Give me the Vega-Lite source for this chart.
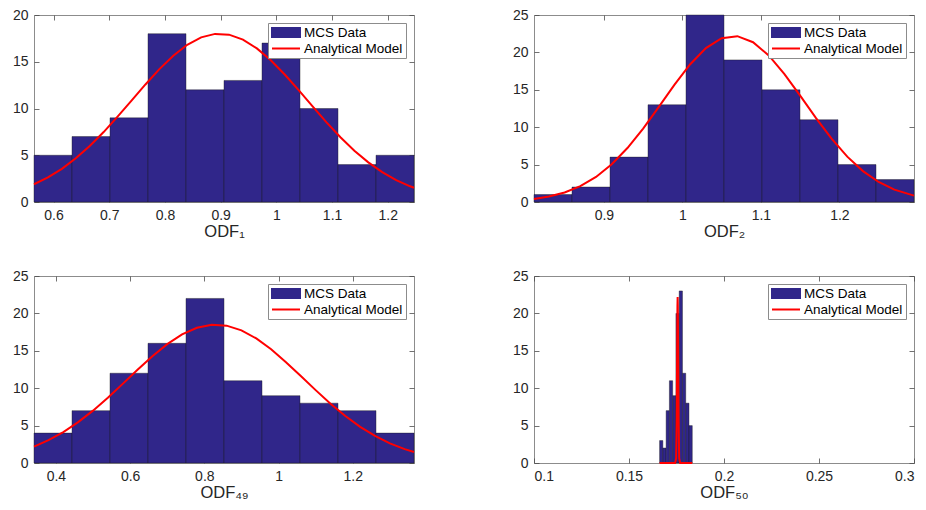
{
  "$schema": "https://vega.github.io/schema/vega-lite/v6.json",
  "background": "white",
  "padding": {"left": 11, "top": 7, "right": 5, "bottom": 5},
  "bounds": "flush",
  "columns": 2,
  "spacing": {"row": 74, "column": 120},
  "resolve": {
    "scale": {"x": "independent", "y": "independent", "color": "independent"},
    "legend": {"color": "independent"}
  },
  "datasets": {
    "bars1": [
      {"x0": 0.565, "x1": 0.6332, "count": 5},
      {"x0": 0.6332, "x1": 0.7014, "count": 7},
      {"x0": 0.7014, "x1": 0.7696, "count": 9},
      {"x0": 0.7696, "x1": 0.8378, "count": 18},
      {"x0": 0.8378, "x1": 0.906, "count": 12},
      {"x0": 0.906, "x1": 0.9742, "count": 13},
      {"x0": 0.9742, "x1": 1.0424, "count": 17},
      {"x0": 1.0424, "x1": 1.1106, "count": 10},
      {"x0": 1.1106, "x1": 1.1788, "count": 4},
      {"x0": 1.1788, "x1": 1.247, "count": 5}
    ],
    "curve1": [
      {"x": 0.565, "y": 1.90}, {"x": 0.59, "y": 2.63}, {"x": 0.615, "y": 3.55}, {"x": 0.64, "y": 4.67},
      {"x": 0.665, "y": 5.99}, {"x": 0.69, "y": 7.48}, {"x": 0.715, "y": 9.13}, {"x": 0.74, "y": 10.85},
      {"x": 0.765, "y": 12.57}, {"x": 0.79, "y": 14.21}, {"x": 0.815, "y": 15.65}, {"x": 0.84, "y": 16.81},
      {"x": 0.865, "y": 17.61}, {"x": 0.89, "y": 17.98}, {"x": 0.915, "y": 17.90}, {"x": 0.94, "y": 17.37},
      {"x": 0.965, "y": 16.43}, {"x": 0.99, "y": 15.16}, {"x": 1.015, "y": 13.64}, {"x": 1.04, "y": 11.96},
      {"x": 1.065, "y": 10.22}, {"x": 1.09, "y": 8.52}, {"x": 1.115, "y": 6.92}, {"x": 1.14, "y": 5.49},
      {"x": 1.165, "y": 4.24}, {"x": 1.19, "y": 3.19}, {"x": 1.215, "y": 2.34}, {"x": 1.24, "y": 1.68},
      {"x": 1.247, "y": 1.52}
    ],
    "bars2": [
      {"x0": 0.811, "x1": 0.8594, "count": 1},
      {"x0": 0.8594, "x1": 0.9078, "count": 2},
      {"x0": 0.9078, "x1": 0.9562, "count": 6},
      {"x0": 0.9562, "x1": 1.0046, "count": 13},
      {"x0": 1.0046, "x1": 1.053, "count": 25},
      {"x0": 1.053, "x1": 1.1014, "count": 19},
      {"x0": 1.1014, "x1": 1.1498, "count": 15},
      {"x0": 1.1498, "x1": 1.1982, "count": 11},
      {"x0": 1.1982, "x1": 1.2466, "count": 5},
      {"x0": 1.2466, "x1": 1.295, "count": 3}
    ],
    "curve2": [
      {"x": 0.811, "y": 0.41}, {"x": 0.83, "y": 0.73}, {"x": 0.85, "y": 1.28}, {"x": 0.87, "y": 2.12},
      {"x": 0.89, "y": 3.35}, {"x": 0.91, "y": 5.04}, {"x": 0.93, "y": 7.21}, {"x": 0.95, "y": 9.81},
      {"x": 0.97, "y": 12.72}, {"x": 0.99, "y": 15.69}, {"x": 1.01, "y": 18.42}, {"x": 1.03, "y": 20.58},
      {"x": 1.05, "y": 21.89}, {"x": 1.07, "y": 22.17}, {"x": 1.09, "y": 21.36}, {"x": 1.11, "y": 19.59},
      {"x": 1.13, "y": 17.10}, {"x": 1.15, "y": 14.21}, {"x": 1.17, "y": 11.24}, {"x": 1.19, "y": 8.46},
      {"x": 1.21, "y": 6.06}, {"x": 1.23, "y": 4.13}, {"x": 1.25, "y": 2.68}, {"x": 1.27, "y": 1.66},
      {"x": 1.295, "y": 0.85}
    ],
    "bars3": [
      {"x0": 0.341, "x1": 0.4434, "count": 4},
      {"x0": 0.4434, "x1": 0.5458, "count": 7},
      {"x0": 0.5458, "x1": 0.6482, "count": 12},
      {"x0": 0.6482, "x1": 0.7506, "count": 16},
      {"x0": 0.7506, "x1": 0.853, "count": 22},
      {"x0": 0.853, "x1": 0.9554, "count": 11},
      {"x0": 0.9554, "x1": 1.0578, "count": 9},
      {"x0": 1.0578, "x1": 1.1602, "count": 8},
      {"x0": 1.1602, "x1": 1.2626, "count": 7},
      {"x0": 1.2626, "x1": 1.365, "count": 4}
    ],
    "curve3": [
      {"x": 0.341, "y": 2.20}, {"x": 0.38, "y": 3.05}, {"x": 0.42, "y": 4.14}, {"x": 0.46, "y": 5.46},
      {"x": 0.5, "y": 7.00}, {"x": 0.54, "y": 8.73}, {"x": 0.58, "y": 10.58}, {"x": 0.62, "y": 12.47},
      {"x": 0.66, "y": 14.28}, {"x": 0.7, "y": 15.89}, {"x": 0.74, "y": 17.19}, {"x": 0.78, "y": 18.08},
      {"x": 0.82, "y": 18.48}, {"x": 0.86, "y": 18.36}, {"x": 0.9, "y": 17.74}, {"x": 0.94, "y": 16.65},
      {"x": 0.98, "y": 15.20}, {"x": 1.02, "y": 13.48}, {"x": 1.06, "y": 11.62}, {"x": 1.1, "y": 9.74},
      {"x": 1.14, "y": 7.93}, {"x": 1.18, "y": 6.28}, {"x": 1.22, "y": 4.84}, {"x": 1.26, "y": 3.62},
      {"x": 1.3, "y": 2.63}, {"x": 1.34, "y": 1.86}, {"x": 1.365, "y": 1.48}
    ],
    "bars4": [
      {"x0": 0.1661, "x1": 0.16782, "count": 3},
      {"x0": 0.16782, "x1": 0.16954, "count": 2},
      {"x0": 0.16954, "x1": 0.17126, "count": 7},
      {"x0": 0.17126, "x1": 0.17298, "count": 11},
      {"x0": 0.17298, "x1": 0.1747, "count": 9},
      {"x0": 0.1747, "x1": 0.17642, "count": 20},
      {"x0": 0.17642, "x1": 0.17814, "count": 23},
      {"x0": 0.17814, "x1": 0.17986, "count": 12},
      {"x0": 0.17986, "x1": 0.18158, "count": 8},
      {"x0": 0.18158, "x1": 0.1833, "count": 5}
    ],
    "curve4": [
      {"x": 0.1661, "y": 0}, {"x": 0.1743, "y": 0.002}, {"x": 0.1748, "y": 0.63}, {"x": 0.1751, "y": 5.54},
      {"x": 0.1753, "y": 13.46}, {"x": 0.1755, "y": 21.0}, {"x": 0.1756, "y": 22.2}, {"x": 0.1757, "y": 21.0},
      {"x": 0.1759, "y": 13.46}, {"x": 0.1761, "y": 5.54}, {"x": 0.1764, "y": 0.63}, {"x": 0.1769, "y": 0.002},
      {"x": 0.1833, "y": 0}
    ]
  },
  "concat": [
    {
      "width": 380, "height": 187,
      "resolve": {"axis": {"x": "independent", "y": "independent"}},
      "layer": [
        {
          "data": {"name": "bars1"},
          "mark": {"type": "bar", "stroke": "#1a1a1a", "strokeWidth": 0.5, "strokeOpacity": 0.8},
          "encoding": {
            "x": {"field": "x0", "type": "quantitative", "scale": {"domain": [0.565, 1.247], "nice": false, "zero": false},
                  "axis": {"orient": "bottom", "values": [0.6, 0.7, 0.8, 0.9, 1, 1.1, 1.2], "format": "~g", "title": "ODF₁"}},
            "x2": {"field": "x1"},
            "y": {"field": "count", "type": "quantitative", "scale": {"domain": [0, 20], "nice": false},
                  "axis": {"orient": "left", "values": [0, 5, 10, 15, 20], "title": null}},
            "y2": {"datum": 0},
            "color": {"datum": "MCS Data", "type": "nominal",
                      "scale": {"domain": ["MCS Data", "Analytical Model"], "range": ["#30268a", "#ff0000"]},
                      "legend": {"title": null, "encode": {"symbols": {"update": {
                        "shape": {"signal": "datum.value === 'MCS Data' ? 'M-1,-0.32H1V0.32H-1Z' : 'stroke'"},
                        "fill": {"signal": "datum.value === 'MCS Data' ? '#30268a' : 'transparent'"},
                        "stroke": {"signal": "datum.value === 'MCS Data' ? '#30268a' : '#ff0000'"}}}}}}
          }
        },
        {
          "data": {"name": "curve1"},
          "mark": {"type": "line", "strokeWidth": 2},
          "encoding": {
            "x": {"field": "x", "type": "quantitative", "axis": {"orient": "top", "labels": false, "title": null, "values": [0.6, 0.7, 0.8, 0.9, 1, 1.1, 1.2]}},
            "y": {"field": "y", "type": "quantitative", "axis": {"orient": "right", "labels": false, "title": null, "values": [0, 5, 10, 15, 20]}},
            "color": {"datum": "Analytical Model", "type": "nominal",
                      "legend": {"title": null, "encode": {"symbols": {"update": {
                        "shape": {"signal": "datum.value === 'MCS Data' ? 'M-1,-0.32H1V0.32H-1Z' : 'stroke'"},
                        "fill": {"signal": "datum.value === 'MCS Data' ? '#30268a' : 'transparent'"},
                        "stroke": {"signal": "datum.value === 'MCS Data' ? '#30268a' : '#ff0000'"}}}}}}
          }
        }
      ]
    },
    {
      "width": 380, "height": 187,
      "resolve": {"axis": {"x": "independent", "y": "independent"}},
      "layer": [
        {
          "data": {"name": "bars2"},
          "mark": {"type": "bar", "stroke": "#1a1a1a", "strokeWidth": 0.5, "strokeOpacity": 0.8},
          "encoding": {
            "x": {"field": "x0", "type": "quantitative", "scale": {"domain": [0.811, 1.295], "nice": false, "zero": false},
                  "axis": {"orient": "bottom", "values": [0.9, 1, 1.1, 1.2], "format": "~g", "title": "ODF₂"}},
            "x2": {"field": "x1"},
            "y": {"field": "count", "type": "quantitative", "scale": {"domain": [0, 25], "nice": false},
                  "axis": {"orient": "left", "values": [0, 5, 10, 15, 20, 25], "title": null}},
            "y2": {"datum": 0},
            "color": {"datum": "MCS Data", "type": "nominal",
                      "scale": {"domain": ["MCS Data", "Analytical Model"], "range": ["#30268a", "#ff0000"]},
                      "legend": {"title": null, "encode": {"symbols": {"update": {
                        "shape": {"signal": "datum.value === 'MCS Data' ? 'M-1,-0.32H1V0.32H-1Z' : 'stroke'"},
                        "fill": {"signal": "datum.value === 'MCS Data' ? '#30268a' : 'transparent'"},
                        "stroke": {"signal": "datum.value === 'MCS Data' ? '#30268a' : '#ff0000'"}}}}}}
          }
        },
        {
          "data": {"name": "curve2"},
          "mark": {"type": "line", "strokeWidth": 2},
          "encoding": {
            "x": {"field": "x", "type": "quantitative", "axis": {"orient": "top", "labels": false, "title": null, "values": [0.9, 1, 1.1, 1.2]}},
            "y": {"field": "y", "type": "quantitative", "axis": {"orient": "right", "labels": false, "title": null, "values": [0, 5, 10, 15, 20, 25]}},
            "color": {"datum": "Analytical Model", "type": "nominal",
                      "legend": {"title": null, "encode": {"symbols": {"update": {
                        "shape": {"signal": "datum.value === 'MCS Data' ? 'M-1,-0.32H1V0.32H-1Z' : 'stroke'"},
                        "fill": {"signal": "datum.value === 'MCS Data' ? '#30268a' : 'transparent'"},
                        "stroke": {"signal": "datum.value === 'MCS Data' ? '#30268a' : '#ff0000'"}}}}}}
          }
        }
      ]
    },
    {
      "width": 380, "height": 187,
      "resolve": {"axis": {"x": "independent", "y": "independent"}},
      "layer": [
        {
          "data": {"name": "bars3"},
          "mark": {"type": "bar", "stroke": "#1a1a1a", "strokeWidth": 0.5, "strokeOpacity": 0.8},
          "encoding": {
            "x": {"field": "x0", "type": "quantitative", "scale": {"domain": [0.341, 1.365], "nice": false, "zero": false},
                  "axis": {"orient": "bottom", "values": [0.4, 0.6, 0.8, 1, 1.2], "format": "~g", "title": "ODF₄₉"}},
            "x2": {"field": "x1"},
            "y": {"field": "count", "type": "quantitative", "scale": {"domain": [0, 25], "nice": false},
                  "axis": {"orient": "left", "values": [0, 5, 10, 15, 20, 25], "title": null}},
            "y2": {"datum": 0},
            "color": {"datum": "MCS Data", "type": "nominal",
                      "scale": {"domain": ["MCS Data", "Analytical Model"], "range": ["#30268a", "#ff0000"]},
                      "legend": {"title": null, "encode": {"symbols": {"update": {
                        "shape": {"signal": "datum.value === 'MCS Data' ? 'M-1,-0.32H1V0.32H-1Z' : 'stroke'"},
                        "fill": {"signal": "datum.value === 'MCS Data' ? '#30268a' : 'transparent'"},
                        "stroke": {"signal": "datum.value === 'MCS Data' ? '#30268a' : '#ff0000'"}}}}}}
          }
        },
        {
          "data": {"name": "curve3"},
          "mark": {"type": "line", "strokeWidth": 2},
          "encoding": {
            "x": {"field": "x", "type": "quantitative", "axis": {"orient": "top", "labels": false, "title": null, "values": [0.4, 0.6, 0.8, 1, 1.2]}},
            "y": {"field": "y", "type": "quantitative", "axis": {"orient": "right", "labels": false, "title": null, "values": [0, 5, 10, 15, 20, 25]}},
            "color": {"datum": "Analytical Model", "type": "nominal",
                      "legend": {"title": null, "encode": {"symbols": {"update": {
                        "shape": {"signal": "datum.value === 'MCS Data' ? 'M-1,-0.32H1V0.32H-1Z' : 'stroke'"},
                        "fill": {"signal": "datum.value === 'MCS Data' ? '#30268a' : 'transparent'"},
                        "stroke": {"signal": "datum.value === 'MCS Data' ? '#30268a' : '#ff0000'"}}}}}}
          }
        }
      ]
    },
    {
      "width": 380, "height": 187,
      "resolve": {"axis": {"x": "independent", "y": "independent"}},
      "layer": [
        {
          "data": {"name": "bars4"},
          "mark": {"type": "bar", "stroke": "#1a1a1a", "strokeWidth": 0.5, "strokeOpacity": 0.8},
          "encoding": {
            "x": {"field": "x0", "type": "quantitative", "scale": {"domain": [0.1, 0.3], "nice": false, "zero": false},
                  "axis": {"orient": "bottom", "values": [0.1, 0.15, 0.2, 0.25, 0.3], "format": "~g", "title": "ODF₅₀"}},
            "x2": {"field": "x1"},
            "y": {"field": "count", "type": "quantitative", "scale": {"domain": [0, 25], "nice": false},
                  "axis": {"orient": "left", "values": [0, 5, 10, 15, 20, 25], "title": null}},
            "y2": {"datum": 0},
            "color": {"datum": "MCS Data", "type": "nominal",
                      "scale": {"domain": ["MCS Data", "Analytical Model"], "range": ["#30268a", "#ff0000"]},
                      "legend": {"title": null, "encode": {"symbols": {"update": {
                        "shape": {"signal": "datum.value === 'MCS Data' ? 'M-1,-0.32H1V0.32H-1Z' : 'stroke'"},
                        "fill": {"signal": "datum.value === 'MCS Data' ? '#30268a' : 'transparent'"},
                        "stroke": {"signal": "datum.value === 'MCS Data' ? '#30268a' : '#ff0000'"}}}}}}
          }
        },
        {
          "data": {"name": "curve4"},
          "mark": {"type": "line", "strokeWidth": 2},
          "encoding": {
            "x": {"field": "x", "type": "quantitative", "axis": {"orient": "top", "labels": false, "title": null, "values": [0.1, 0.15, 0.2, 0.25, 0.3]}},
            "y": {"field": "y", "type": "quantitative", "axis": {"orient": "right", "labels": false, "title": null, "values": [0, 5, 10, 15, 20, 25]}},
            "color": {"datum": "Analytical Model", "type": "nominal",
                      "legend": {"title": null, "encode": {"symbols": {"update": {
                        "shape": {"signal": "datum.value === 'MCS Data' ? 'M-1,-0.32H1V0.32H-1Z' : 'stroke'"},
                        "fill": {"signal": "datum.value === 'MCS Data' ? '#30268a' : 'transparent'"},
                        "stroke": {"signal": "datum.value === 'MCS Data' ? '#30268a' : '#ff0000'"}}}}}}
          }
        }
      ]
    }
  ],
  "config": {
    "view": {"stroke": "#8c8c8c", "strokeWidth": 1},
    "axis": {
      "grid": false,
      "domain": false,
      "tickSize": -5,
      "tickColor": "#4d4d4d",
      "tickWidth": 0.8,
      "labelPadding": 11,
      "labelFont": "Liberation Sans",
      "labelFontSize": 14,
      "labelColor": "#262626",
      "titleFont": "Liberation Sans",
      "titleFontSize": 16.5,
      "titleFontWeight": "normal",
      "titleColor": "#262626",
      "titlePadding": 1
    },
    "axisY": {"labelPadding": 11},
    "legend": {
      "orient": "top-right",
      "offset": 8,
      "padding": 3,
      "strokeColor": "#8c8c8c",
      "fillColor": "white",
      "labelFont": "Liberation Sans",
      "labelFontSize": 13.5,
      "labelColor": "#000000",
      "labelOffset": 3,
      "rowPadding": 2,
      "clipHeight": 13,
      "symbolSize": 784,
      "symbolStrokeWidth": 2,
      "symbolOpacity": 1
    },
    "mark": {"clip": false}
  }
}
